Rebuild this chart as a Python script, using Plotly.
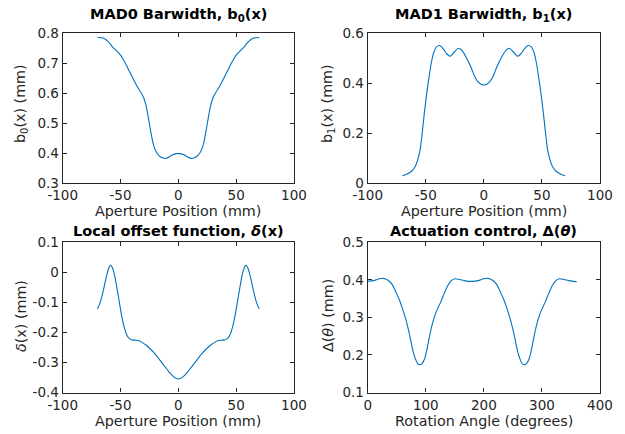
import plotly.graph_objects as go

# ---------------- data ----------------
b0_x = [-70, -65, -60, -57, -53, -50, -47, -44, -41, -38, -35, -32, -30, -28, -26, -24, -22, -20, -17, -14, -11, -8, -5, -2, 0,
        2, 5, 8, 11, 14, 17, 20, 22, 24, 26, 28, 30, 32, 35, 38, 41, 44, 47, 50, 53, 57, 60, 65, 70]
b0_y = [0.786, 0.784, 0.770, 0.755, 0.740, 0.727, 0.708, 0.686, 0.663, 0.640, 0.618, 0.600, 0.585, 0.560, 0.520, 0.475, 0.435,
        0.410, 0.392, 0.384, 0.382, 0.387, 0.394, 0.398, 0.398,
        0.398, 0.394, 0.387, 0.382, 0.384, 0.392, 0.410, 0.435, 0.475, 0.520, 0.560, 0.585, 0.600, 0.618, 0.640, 0.663,
        0.686, 0.708, 0.727, 0.740, 0.755, 0.770, 0.784, 0.786]

b1_x = [-70, -66, -62, -59, -57, -55, -53, -51, -49, -47, -45, -43, -41, -38, -35, -32, -29, -26, -22, -19, -15, -11, -8, -5, -2, 0,
        2, 5, 8, 11, 15, 19, 22, 26, 29, 32, 35, 38, 41, 43, 45, 47, 49, 51, 53, 55, 57, 59, 62, 66, 70]
b1_y = [0.029, 0.036, 0.048, 0.067, 0.092, 0.130, 0.205, 0.290, 0.365, 0.430, 0.487, 0.525, 0.545, 0.551, 0.538, 0.518, 0.508,
        0.522, 0.540, 0.532, 0.502, 0.463, 0.428, 0.405, 0.395, 0.393,
        0.395, 0.405, 0.428, 0.463, 0.502, 0.532, 0.540, 0.522, 0.508, 0.518, 0.538, 0.551, 0.545, 0.525, 0.487, 0.430,
        0.365, 0.290, 0.205, 0.130, 0.092, 0.067, 0.048, 0.036, 0.029]

d_x = [-70, -68, -66, -64, -62, -60, -58.5, -57, -55, -53, -51, -49, -47, -45, -43, -40, -37, -34, -31, -28, -24, -20, -16, -12, -8, -4, 0,
       4, 8, 12, 16, 20, 24, 28, 31, 34, 37, 40, 43, 45, 47, 49, 51, 53, 55, 57, 58.5, 60, 62, 64, 66, 68, 70]
d_y = [-0.122, -0.105, -0.078, -0.045, -0.010, 0.015, 0.024, 0.015, -0.012, -0.055, -0.100, -0.145, -0.180, -0.205, -0.218,
       -0.225, -0.226, -0.228, -0.234, -0.242, -0.256, -0.272, -0.292, -0.312, -0.332, -0.348, -0.355,
       -0.348, -0.332, -0.312, -0.292, -0.272, -0.256, -0.242, -0.234, -0.228, -0.226, -0.225, -0.218, -0.205, -0.180,
       -0.145, -0.100, -0.055, -0.012, 0.015, 0.024, 0.015, -0.010, -0.045, -0.078, -0.105, -0.122]

a_x = [0, 10, 20, 27, 35, 42, 49, 55, 61, 66, 70, 74, 78, 82, 86, 90, 94, 98, 102, 106, 110, 115, 120, 126, 132, 138, 144, 150,
       158, 166, 174, 180, 190, 200, 207, 215, 222, 229, 235, 241, 246, 250, 254, 258, 262, 266, 270, 274, 278, 282, 286,
       290, 295, 300, 306, 312, 318, 324, 330, 338, 346, 354, 360]
a_y = [0.396, 0.398, 0.403, 0.404, 0.399, 0.388, 0.366, 0.345, 0.318, 0.293, 0.268, 0.240, 0.210, 0.190, 0.177, 0.174, 0.178,
       0.190, 0.215, 0.246, 0.275, 0.302, 0.322, 0.342, 0.365, 0.385, 0.398, 0.403, 0.401, 0.398, 0.396, 0.396,
       0.398, 0.403, 0.404, 0.399, 0.388, 0.366, 0.345, 0.318, 0.293, 0.268, 0.240, 0.210, 0.190, 0.177, 0.174, 0.178,
       0.190, 0.215, 0.246, 0.275, 0.302, 0.322, 0.342, 0.365, 0.385, 0.398, 0.403, 0.401, 0.398, 0.396, 0.395]

xt_ap = [-100, -50, 0, 50, 100]
xt_ap_text = ["-100", "-50", "0", "50", "100"]
yt_b0 = [0.3, 0.4, 0.5, 0.6, 0.7, 0.8]
yt_b0_text = ["0.3", "0.4", "0.5", "0.6", "0.7", "0.8"]
yt_b1 = [0, 0.2, 0.4, 0.6]
yt_b1_text = ["0", "0.2", "0.4", "0.6"]
yt_d = [-0.4, -0.3, -0.2, -0.1, 0, 0.1]
yt_d_text = ["-0.4", "-0.3", "-0.2", "-0.1", "0", "0.1"]
xt_ang = [0, 100, 200, 300, 400]
xt_ang_text = ["0", "100", "200", "300", "400"]
yt_a = [0.1, 0.2, 0.3, 0.4, 0.5]
yt_a_text = ["0.1", "0.2", "0.3", "0.4", "0.5"]

# ---------------- figure ----------------
W, H = 625, 434
LINE = "#0072BD"
AX = "#262626"
FONT = "DejaVu Sans"

fig = go.Figure()
series = [
    (b0_x, b0_y, "x", "y"),
    (b1_x, b1_y, "x2", "y2"),
    (d_x, d_y, "x3", "y3"),
    (a_x, a_y, "x4", "y4"),
]
for xs, ys, xa, ya in series:
    fig.add_trace(go.Scatter(x=xs, y=ys, xaxis=xa, yaxis=ya, mode="lines",
                             line=dict(color=LINE, width=1.1, shape="spline", smoothing=0.8),
                             showlegend=False, hoverinfo="skip"))

colL = [62.7 / W, 294.0 / W]
colR = [367.7 / W, 600.0 / W]
rowT = [1 - 183.0 / H, 1 - 33.3 / H]
rowB = [1 - 392.5 / H, 1 - 242.3 / H]

def xax(dom, rng, tv, tt, anchor):
    return dict(domain=dom, range=rng, tickvals=tv, ticktext=tt, anchor=anchor,
                automargin=False,
                showline=True, linecolor=AX, linewidth=1.2, mirror="ticks",
                ticks="inside", ticklen=4, tickwidth=1, tickcolor=AX,
                showgrid=False, zeroline=False,
                tickfont=dict(family=FONT, size=13.5, color=AX))

fig.update_layout(
    width=W, height=H,
    margin=dict(l=0, r=0, t=0, b=0),
    paper_bgcolor="white", plot_bgcolor="white",
    xaxis=xax(colL, [-100, 100], xt_ap, xt_ap_text, "y"),
    yaxis=xax(rowT, [0.3, 0.8], yt_b0, yt_b0_text, "x"),
    xaxis2=xax(colR, [-100, 100], xt_ap, xt_ap_text, "y2"),
    yaxis2=xax(rowT, [0, 0.6], yt_b1, yt_b1_text, "x2"),
    xaxis3=xax(colL, [-100, 100], xt_ap, xt_ap_text, "y3"),
    yaxis3=xax(rowB, [-0.4, 0.1], yt_d, yt_d_text, "x3"),
    xaxis4=xax(colR, [0, 400], xt_ang, xt_ang_text, "y4"),
    yaxis4=xax(rowB, [0.1, 0.5], yt_a, yt_a_text, "x4"),
)

def ann(text, xpx, ypx, size, angle=0, bold=False):
    t = "<b>" + text + "</b>" if bold else text
    fig.add_annotation(text=t, x=xpx / W, y=1 - ypx / H, xref="paper", yref="paper",
                       showarrow=False, textangle=angle, xanchor="center", yanchor="middle",
                       font=dict(family=FONT, size=size, color=AX if not bold else "#000000"))

cL = (62.7 + 294.0) / 2
cR = (367.7 + 600.0) / 2
ann("MAD0 Barwidth, b<sub>0</sub>(x)", cL, 15, 14.5, bold=True)
ann("MAD1 Barwidth, b<sub>1</sub>(x)", cR, 15, 14.5, bold=True)
ann("Local offset function, <i>δ</i>(x)", cL, 231, 14.5, bold=True)
ann("Actuation control, Δ(<i>θ</i>)", cR, 231, 14.5, bold=True)

ann("Aperture Position (mm)", cL, 211, 14.3)
ann("Aperture Position (mm)", cR, 211, 14.3)
ann("Aperture Position (mm)", cL, 421, 14.3)
ann("Rotation Angle (degrees)", cR, 421, 14.3)

ann("b<sub>0</sub>(x) (mm)", 21, 104, 14.3, angle=-90)
ann("b<sub>1</sub>(x) (mm)", 328, 104, 14.3, angle=-90)
ann("<i>δ</i>(x) (mm)", 21, 316, 14.3, angle=-90)
ann("Δ(<i>θ</i>) (mm)", 328, 316, 14.3, angle=-90)

fig.write_html("out.html")
